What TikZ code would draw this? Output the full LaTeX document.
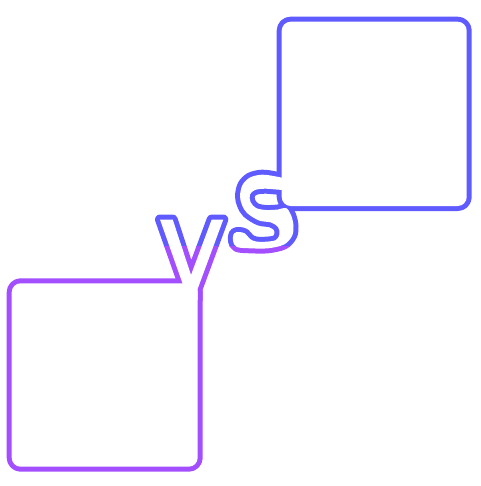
\documentclass[tikz,border=0pt]{standalone}
\usepackage{xcolor}
\definecolor{vsblue}{RGB}{95,91,255}
\definecolor{vspurple}{RGB}{163,79,255}
\colorlet{ringcol}{vsblue}
\tikzset{
  ring/.style = {draw=ringcol, line width=10pt, line join=round},
  hole/.style = {fill=white, draw=none},
}
\begin{document}
\begin{tikzpicture}[x=1pt, y=-1pt]
\useasboundingbox (0,0) rectangle (480,486);

\foreach \col/\ytop/\ybot in {vsblue/0/246, vspurple/246/486} {
  \begin{scope}
    \clip (0,\ytop) rectangle (480,\ybot);
    \colorlet{ringcol}{\col}
    \foreach \pass in {ring, hole} {
      % the two boxes
      \path[\pass, rounded corners=9pt] (11.7,283.3) rectangle (197.7,466.7);
      \path[\pass, rounded corners=9pt] (281.7,21.7) rectangle (466.7,206);
      % letter v
      \path[\pass] (160,219.5) -- (172.7,219.5) -- (191,275) -- (211.7,219.5)
        -- (223.3,219.5) -- (197.7,288.7) -- (197.7,300) -- (188.4,300) -- cycle;
      % letter s
      \path[\pass] plot[smooth cycle, tension=0.55] coordinates {
        (290,180) (276,176.5) (262,174.7) (250,177.5) (242.5,185) (240,196)
        (242,205) (247,213) (259,220.5) (271,222.5) (278,227) (279.5,234)
        (276,240) (266,241.7) (256,241.5) (250,239) (245,233.5) (239,232)
        (234,233.5) (233,241) (237,247) (250,248.3) (268,248.3) (284,244.5)
        (292,236) (293.5,226) (291,215) (286,208) (278,209.5) (266,210)
        (256,208) (250.5,202) (250,194.5) (255,190) (265,188.7) (276,189.5)
        (290,190) (296,185)};
    }
  \end{scope}
}

\end{tikzpicture}
\end{document}
